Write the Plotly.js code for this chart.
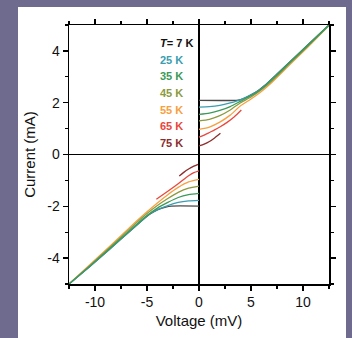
<!DOCTYPE html>
<html>
<head>
<meta charset="utf-8">
<script src="https://cdn.plot.ly/plotly-3.0.1.min.js"></script>
<style>
html,body{margin:0;padding:0;width:352px;height:338px;background:#6f6b8f;overflow:hidden;}
#panel{position:absolute;left:18px;top:7px;width:328px;height:331px;background:#fff;}
#chart{position:absolute;left:0;top:0;width:328px;height:331px;}
</style>
</head>
<body>
<div id="panel"><div id="chart"></div></div>
<script>
// Temperatures (labels)
const temps = ['7 K', '25 K', '35 K', '45 K', '55 K', '65 K', '75 K'];

// Tick labels
const xTickVals = [-10, -5, 0, 5, 10];
const xTickText = ['-10', '-5', '0', '5', '10'];
const yTickVals = [-4, -2, 0, 2, 4];
const yTickText = ['-4', '-2', '0', '2', '4'];

// Positive-bias branches (Voltage mV, Current mA)
const V7p  = [0, 3.6, 3.9, 4.5, 5, 5.7, 6.3, 7.5, 8.7, 10.5, 12.5];
const I7p  = [2.09, 2.09, 2.11, 2.2, 2.3, 2.47, 2.66, 3.11, 3.56, 4.25, 5.0];
const V25p = [0, 1, 2, 3, 3.6, 4.2, 5, 5.7, 6.3, 7.5, 8.7, 10.5, 12.5];
const I25p = [1.83, 1.85, 1.9, 1.99, 2.06, 2.15, 2.3, 2.46, 2.65, 3.1, 3.55, 4.24, 5.0];
const V35p = [0, 1, 2, 3, 4, 5, 5.7, 6.3, 7.5, 8.7, 10.5, 12.5];
const I35p = [1.55, 1.6, 1.7, 1.85, 2.06, 2.27, 2.44, 2.63, 3.08, 3.54, 4.23, 5.0];
const V45p = [0, 1, 2, 3, 4, 5, 6, 7, 8.7, 10.5, 12.5];
const I45p = [1.3, 1.36, 1.5, 1.72, 2.0, 2.22, 2.5, 2.84, 3.5, 4.2, 4.99];
const V55p = [0, 1, 2, 3, 4, 5, 6, 7, 8.7, 10.5, 12.5];
const I55p = [0.97, 1.06, 1.25, 1.52, 1.88, 2.14, 2.43, 2.78, 3.45, 4.16, 4.98];
const V65p = [0, 0.5, 1, 1.5, 2, 2.7, 3.4, 4.07];
const I65p = [0.67, 0.75, 0.85, 0.95, 1.06, 1.24, 1.46, 1.72];
const V75p = [0, 0.5, 1, 1.5, 2.06];
const I75p = [0.33, 0.4, 0.5, 0.64, 0.82];

// Negative-bias branches
const V7n  = [0, -2.65, -3.2, -4, -4.74, -6, -8.6, -10.5, -12.5];
const I7n  = [-1.99, -1.99, -2.03, -2.14, -2.31, -2.73, -3.66, -4.32, -5.0];
const V25n = [0, -1, -2, -3, -4, -4.74, -6, -8.6, -10.5, -12.5];
const I25n = [-1.77, -1.79, -1.85, -1.97, -2.13, -2.3, -2.73, -3.66, -4.32, -5.0];
const V35n = [0, -1, -2, -3, -4, -5, -6, -8.6, -10.5, -12.5];
const I35n = [-1.5, -1.55, -1.66, -1.85, -2.07, -2.36, -2.7, -3.64, -4.31, -5.0];
const V45n = [0, -1, -2, -3, -4, -5, -6, -8.6, -10.5, -12.5];
const I45n = [-1.22, -1.3, -1.46, -1.7, -1.97, -2.28, -2.63, -3.6, -4.29, -5.0];
const V55n = [0, -1, -2, -3, -4, -5, -6, -8.6, -10.5, -12.5];
const I55n = [-0.96, -1.06, -1.27, -1.55, -1.87, -2.21, -2.57, -3.55, -4.26, -5.0];
const V65n = [0, -0.5, -1, -2, -3, -4.1];
const I65n = [-0.63, -0.7, -0.82, -1.13, -1.42, -1.73];
const V75n = [-0.1, -0.5, -1, -1.5, -1.9];
const I75n = [-0.38, -0.45, -0.56, -0.7, -0.83];

const branches = {
  '7 K':  [[V7p, I7p], [V7n, I7n]],
  '25 K': [[V25p, I25p], [V25n, I25n]],
  '35 K': [[V35p, I35p], [V35n, I35n]],
  '45 K': [[V45p, I45p], [V45n, I45n]],
  '55 K': [[V55p, I55p], [V55n, I55n]],
  '65 K': [[V65p, I65p], [V65n, I65n]],
  '75 K': [[V75p, I75p], [V75n, I75n]]
};

const colors = {
  '7 K': '#4a4a4a', '25 K': '#3a9db0', '35 K': '#3b9a57', '45 K': '#8b9a3d',
  '55 K': '#f7a040', '65 K': '#e8473c', '75 K': '#8c2c2c'
};
const drawOrder = ['75 K', '65 K', '7 K', '55 K', '45 K', '25 K', '35 K'];

const traces = [];
drawOrder.forEach(t => {
  branches[t].forEach(([vx, iy]) => {
    traces.push({
      x: vx, y: iy, type: 'scatter', mode: 'lines',
      line: {color: colors[t], width: 1.3, shape: 'spline', smoothing: 0.6},
      showlegend: false, hoverinfo: 'skip'
    });
  });
});

const annotations = temps.map((t, k) => ({
  xref: 'paper', yref: 'paper', x: 0.342, y: 0.9306 - k * 0.0644,
  xanchor: 'left', yanchor: 'middle', showarrow: false,
  text: k === 0 ? '<i>T</i>= ' + t : t,
  font: {family: 'Liberation Sans, Arial, sans-serif', size: 11, color: k === 0 ? '#111' : colors[t], weight: 'bold'}
}));

const axisCommon = {
  showgrid: false, zeroline: true, zerolinecolor: '#000', zerolinewidth: 1.3,
  showline: true, linecolor: '#000', linewidth: 1.5, mirror: 'allticks',
  ticks: 'outside', ticklen: 5, tickwidth: 1.3, tickcolor: '#000',
  tickmode: 'array',
  tickfont: {family: 'Liberation Sans, Arial, sans-serif', size: 14, color: '#111'}
};

const layout = {
  width: 328, height: 331,
  margin: {l: 51.3, r: 16.7, t: 17.7, b: 54},
  paper_bgcolor: '#fff', plot_bgcolor: '#fff',
  xaxis: Object.assign({}, axisCommon, {
    range: [-12.5, 12.5], tickvals: xTickVals, ticktext: xTickText,
    minor: {tickmode: 'linear', tick0: 0, dtick: 2.5, ticks: 'outside', ticklen: 3, tickwidth: 1.2, tickcolor: '#000'},
    title: {text: 'Voltage (mV)', standoff: 6, font: {family: 'Liberation Sans, Arial, sans-serif', size: 15, color: '#111'}}
  }),
  yaxis: Object.assign({}, axisCommon, {
    range: [-5, 5], tickvals: yTickVals, ticktext: yTickText,
    minor: {tickmode: 'linear', tick0: 0, dtick: 1, ticks: 'outside', ticklen: 3, tickwidth: 1.2, tickcolor: '#000'},
    title: {text: 'Current (mA)', standoff: 8, font: {family: 'Liberation Sans, Arial, sans-serif', size: 15, color: '#111'}}
  }),
  annotations: annotations,
  showlegend: false
};

Plotly.newPlot('chart', traces, layout, {displayModeBar: false, staticPlot: true});
</script>
</body>
</html>
